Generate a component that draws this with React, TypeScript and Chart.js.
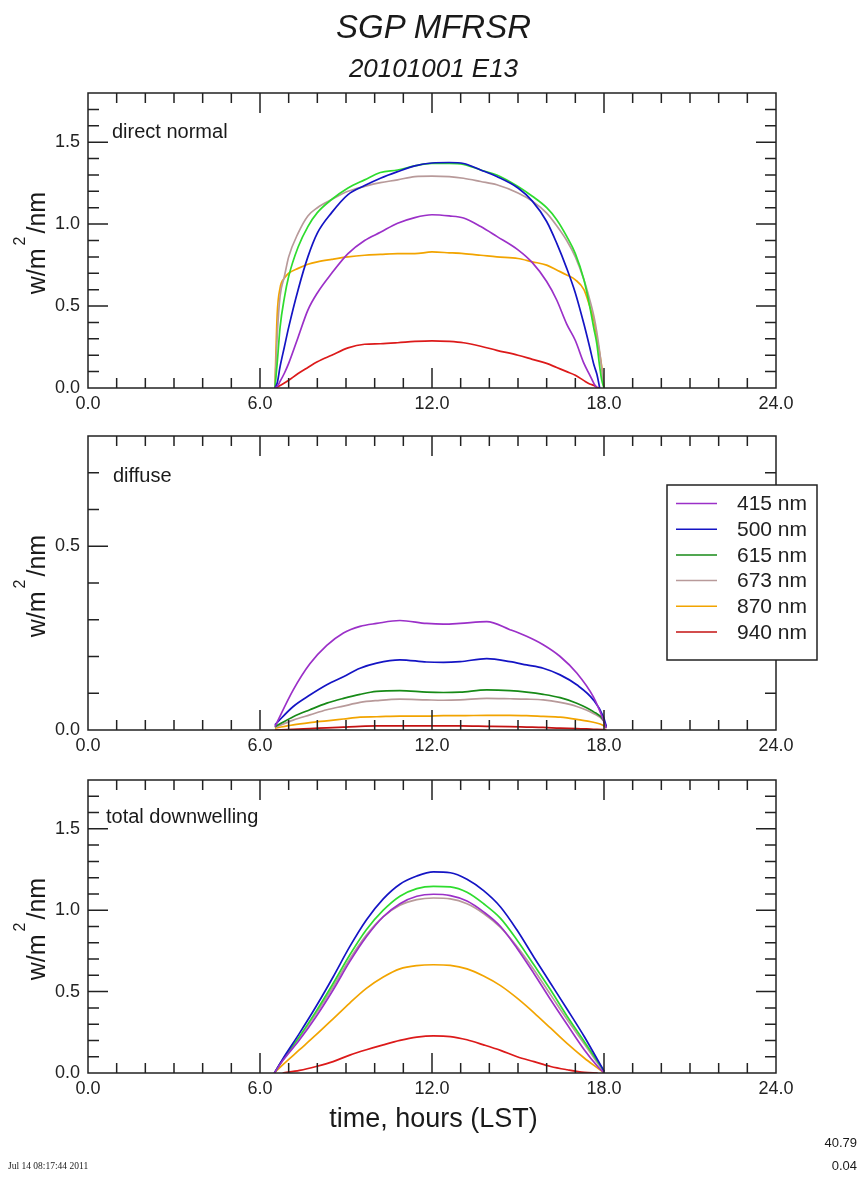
import { useEffect, useRef } from "react";
import { Chart, registerables } from "chart.js";

Chart.register(...registerables);

const FONT = '"Liberation Sans", Arial, Helvetica, sans-serif';

// ---- labels / ticks ----
const WAVELENGTH_LABELS = ["415 nm", "500 nm", "615 nm", "673 nm", "870 nm", "940 nm"];
const X_TICKS = [0, 6, 12, 18, 24];
const X_TICK_LABELS = ["0.0", "6.0", "12.0", "18.0", "24.0"];
const Y_TICKS_FULL = [0, 0.5, 1.0, 1.5];
const Y_TICK_LABELS_FULL = ["0.0", "0.5", "1.0", "1.5"];
const Y_TICKS_DIFFUSE = [0, 0.5];
const Y_TICK_LABELS_DIFFUSE = ["0.0", "0.5"];

// ---- direct normal ----
const DIRECT_HOURS = [6.52, 6.6, 6.7, 6.85, 7.0, 7.33, 7.67, 8.0, 8.5, 9.07, 9.65, 10.2, 10.8, 11.4, 12.0, 12.6, 13.1, 13.7, 14.26, 15.0, 15.5, 16.0, 16.35, 16.7, 17.0, 17.3, 17.5, 17.65, 17.75, 17.85, 17.92, 18.0];
const DIRECT_415 = [0, 0.01, 0.04, 0.09, 0.15, 0.31, 0.475, 0.58, 0.70, 0.82, 0.90, 0.95, 1.005, 1.04, 1.057, 1.05, 1.037, 0.985, 0.925, 0.843, 0.765, 0.65, 0.537, 0.39, 0.29, 0.15, 0.08, 0.027, 0.0, null, null, null];
const DIRECT_500 = [0, 0.03, 0.13, 0.25, 0.37, 0.60, 0.80, 0.945, 1.07, 1.18, 1.235, 1.28, 1.32, 1.355, 1.373, 1.376, 1.37, 1.33, 1.29, 1.22, 1.14, 1.016, 0.884, 0.73, 0.58, 0.39, 0.25, 0.14, 0.085, 0.0, null, null];
const DIRECT_615 = [0, 0.15, 0.37, 0.55, 0.68, 0.86, 0.985, 1.07, 1.15, 1.22, 1.27, 1.315, 1.33, 1.355, 1.37, 1.37, 1.365, 1.33, 1.30, 1.23, 1.17, 1.10, 1.027, 0.925, 0.82, 0.66, 0.50, 0.36, 0.27, 0.13, 0.05, 0];
const DIRECT_673 = [0, 0.32, 0.56, 0.68, 0.80, 0.945, 1.05, 1.10, 1.15, 1.20, 1.23, 1.253, 1.27, 1.29, 1.293, 1.29, 1.28, 1.26, 1.24, 1.19, 1.14, 1.067, 0.99, 0.90, 0.80, 0.66, 0.54, 0.435, 0.34, 0.22, 0.12, 0];
const DIRECT_870 = [0, 0.45, 0.61, 0.67, 0.70, 0.73, 0.755, 0.77, 0.785, 0.80, 0.81, 0.815, 0.82, 0.82, 0.83, 0.825, 0.82, 0.81, 0.80, 0.79, 0.77, 0.75, 0.72, 0.69, 0.66, 0.60, 0.50, 0.41, 0.31, 0.21, 0.13, 0];
const DIRECT_940 = [0, 0.005, 0.015, 0.03, 0.047, 0.088, 0.125, 0.16, 0.20, 0.245, 0.267, 0.27, 0.276, 0.284, 0.288, 0.284, 0.276, 0.255, 0.23, 0.20, 0.175, 0.15, 0.125, 0.10, 0.078, 0.045, 0.025, 0.016, 0.005, 0, null, null];

// ---- diffuse ----
const DIFFUSE_HOURS = [6.52, 7.16, 7.74, 8.33, 8.91, 9.49, 10.07, 10.88, 11.81, 12.4, 12.98, 13.91, 14.72, 15.3, 15.88, 16.47, 17.05, 17.63, 17.98, 18.08];
const DIFFUSE_415 = [0.009, 0.109, 0.18, 0.23, 0.264, 0.282, 0.29, 0.298, 0.29, 0.288, 0.29, 0.295, 0.273, 0.255, 0.232, 0.2, 0.155, 0.09, 0.027, 0.005];
const DIFFUSE_500 = [0.014, 0.064, 0.095, 0.123, 0.145, 0.168, 0.182, 0.191, 0.185, 0.184, 0.186, 0.194, 0.186, 0.177, 0.168, 0.15, 0.123, 0.082, 0.036, 0.01];
const DIFFUSE_615 = [0.009, 0.036, 0.055, 0.073, 0.086, 0.097, 0.105, 0.107, 0.103, 0.102, 0.103, 0.109, 0.107, 0.103, 0.097, 0.088, 0.073, 0.05, 0.027, 0.008];
const DIFFUSE_673 = [0.007, 0.027, 0.041, 0.055, 0.065, 0.075, 0.08, 0.084, 0.082, 0.081, 0.082, 0.086, 0.085, 0.084, 0.082, 0.075, 0.064, 0.045, 0.025, 0.007];
const DIFFUSE_870 = [0.005, 0.014, 0.02, 0.025, 0.03, 0.035, 0.036, 0.038, 0.038, 0.039, 0.039, 0.04, 0.04, 0.039, 0.037, 0.035, 0.029, 0.021, 0.012, 0.005];
const DIFFUSE_940 = [0, 0.002, 0.004, 0.006, 0.008, 0.01, 0.011, 0.011, 0.011, 0.011, 0.011, 0.01, 0.009, 0.008, 0.007, 0.005, 0.004, 0.002, 0.001, 0];

// ---- total downwelling ----
const TOTAL_HOURS = [6.5, 6.79, 7.38, 7.96, 8.55, 9.13, 9.71, 10.3, 10.88, 11.47, 12.05, 12.64, 13.22, 13.8, 14.39, 14.97, 15.56, 16.14, 16.72, 17.31, 17.78, 18.01];
const TOTAL_415 = [0, 0.075, 0.204, 0.347, 0.51, 0.684, 0.837, 0.96, 1.04, 1.086, 1.098, 1.09, 1.057, 0.99, 0.9, 0.765, 0.61, 0.45, 0.296, 0.143, 0.04, 0.0];
const TOTAL_500 = [0, 0.085, 0.245, 0.41, 0.59, 0.776, 0.94, 1.07, 1.16, 1.21, 1.235, 1.23, 1.19, 1.12, 1.02, 0.877, 0.71, 0.55, 0.39, 0.224, 0.08, 0.01];
const TOTAL_615 = [0, 0.08, 0.225, 0.38, 0.55, 0.725, 0.88, 1.0, 1.086, 1.133, 1.147, 1.143, 1.11, 1.04, 0.95, 0.816, 0.663, 0.51, 0.347, 0.194, 0.07, 0.01];
const TOTAL_673 = [0, 0.08, 0.22, 0.367, 0.53, 0.7, 0.847, 0.96, 1.03, 1.065, 1.075, 1.07, 1.04, 0.98, 0.894, 0.775, 0.633, 0.48, 0.327, 0.18, 0.06, 0.005];
const TOTAL_870 = [0, 0.05, 0.143, 0.235, 0.333, 0.43, 0.52, 0.59, 0.64, 0.66, 0.665, 0.661, 0.64, 0.596, 0.537, 0.46, 0.37, 0.275, 0.18, 0.092, 0.03, 0];
const TOTAL_940 = [null, 0, 0.016, 0.04, 0.07, 0.11, 0.143, 0.173, 0.2, 0.22, 0.228, 0.224, 0.204, 0.173, 0.139, 0.1, 0.07, 0.04, 0.02, 0.004, 0, null];

const COLORS_BRIGHT = ["#9b30c8", "#1414c4", "#2edc2e", "#b89a9a", "#f2a400", "#dc1a1a"];
const COLORS_DIFFUSE = ["#9b30c8", "#1414c4", "#178a17", "#b89a9a", "#f2a400", "#c41212"];

const Y_AXIS_W = 40;
const X_AXIS_H = 40;
const PLOT_LEFT = 88;
const PLOT_RIGHT = 776;
const PAGE_W = 867;
const PAGE_H = 1178;

type Panel = {
  top: number;
  bottom: number;
  ymax: number;
  hours: number[];
  series: (number | null)[][];
  colors: string[];
  yTicks: number[];
  yLabels: string[];
  legend: boolean;
};

const PANELS: Panel[] = [
  { top: 93, bottom: 388, ymax: 1.8, hours: DIRECT_HOURS, series: [DIRECT_415, DIRECT_500, DIRECT_615, DIRECT_673, DIRECT_870, DIRECT_940], colors: COLORS_BRIGHT, yTicks: Y_TICKS_FULL, yLabels: Y_TICK_LABELS_FULL, legend: false },
  { top: 436, bottom: 730, ymax: 0.8, hours: DIFFUSE_HOURS, series: [DIFFUSE_415, DIFFUSE_500, DIFFUSE_615, DIFFUSE_673, DIFFUSE_870, DIFFUSE_940], colors: COLORS_DIFFUSE, yTicks: Y_TICKS_DIFFUSE, yLabels: Y_TICK_LABELS_DIFFUSE, legend: true },
  { top: 780, bottom: 1073, ymax: 1.8, hours: TOTAL_HOURS, series: [TOTAL_415, TOTAL_500, TOTAL_615, TOTAL_673, TOTAL_870, TOTAL_940], colors: COLORS_BRIGHT, yTicks: Y_TICKS_FULL, yLabels: Y_TICK_LABELS_FULL, legend: false },
];

const PANEL_NAMES = [
  { text: "direct normal", left: 112, baseline: 138 },
  { text: "diffuse", left: 113, baseline: 482 },
  { text: "total downwelling", left: 106, baseline: 823 },
];

const LEGEND_BOX = { x: 667, y: 485, w: 150, h: 175, rowTop: 503.5, rowGap: 25.7, lineX0: 676, lineX1: 717, textX: 737 };

const framePlugin = {
  id: "frame",
  afterDatasetsDraw(chart: any) {
    const { ctx, chartArea, scales } = chart;
    const { left, right, top, bottom } = chartArea;
    const xs = scales.x;
    const ys = scales.y;
    ctx.save();
    ctx.strokeStyle = "#222";
    ctx.lineWidth = 1.5;
    ctx.strokeRect(left, top, right - left, bottom - top);
    ctx.beginPath();
    for (let h = 1; h < 24; h++) {
      const px = xs.getPixelForValue(h);
      const len = h % 6 === 0 ? 20 : 10;
      ctx.moveTo(px, bottom);
      ctx.lineTo(px, bottom - len);
      ctx.moveTo(px, top);
      ctx.lineTo(px, top + len);
    }
    for (let k = 1; k * 0.1 < ys.max - 0.01; k++) {
      const py = ys.getPixelForValue(k * 0.1);
      const len = k % 5 === 0 ? 20 : 11;
      ctx.moveTo(left, py);
      ctx.lineTo(left + len, py);
      ctx.moveTo(right, py);
      ctx.lineTo(right - len, py);
    }
    ctx.stroke();
    ctx.restore();
  },
};

const insetLegendPlugin = {
  id: "insetLegend",
  afterDraw(chart: any, _args: any, opts: any) {
    if (!opts || !opts.show) return;
    const ctx = chart.ctx;
    const L = LEGEND_BOX;
    ctx.save();
    ctx.fillStyle = "#fff";
    ctx.fillRect(L.x, L.y, L.w, L.h);
    ctx.strokeStyle = "#222";
    ctx.lineWidth = 1.5;
    ctx.strokeRect(L.x, L.y, L.w, L.h);
    chart.data.datasets.forEach((ds: any, i: number) => {
      const cy = L.rowTop + i * L.rowGap;
      ctx.strokeStyle = ds.borderColor;
      ctx.lineWidth = 1.5;
      ctx.beginPath();
      ctx.moveTo(L.lineX0, cy);
      ctx.lineTo(L.lineX1, cy);
      ctx.stroke();
      ctx.fillStyle = "#222";
      ctx.font = `21px ${FONT}`;
      ctx.textAlign = "left";
      ctx.textBaseline = "middle";
      ctx.fillText(ds.label, L.textX, cy + 1);
    });
    ctx.restore();
  },
};

function buildConfig(p: Panel): any {
  return {
    type: "line",
    data: {
      datasets: p.series.map((vals, i) => ({
        label: WAVELENGTH_LABELS[i],
        data: p.hours.map((h, k) => ({ x: h, y: vals[k] })),
        borderColor: p.colors[i],
        backgroundColor: p.colors[i],
        borderWidth: 1.7,
        pointRadius: 0,
        fill: false,
        cubicInterpolationMode: "monotone",
      })),
    },
    options: {
      animation: false,
      responsive: false,
      maintainAspectRatio: false,
      events: [],
      layout: {
        padding: {
          left: PLOT_LEFT - Y_AXIS_W,
          right: PAGE_W - PLOT_RIGHT,
          top: p.top,
          bottom: PAGE_H - p.bottom - X_AXIS_H,
        },
      },
      scales: {
        x: {
          type: "linear",
          min: 0,
          max: 24,
          grid: { display: false, drawTicks: false },
          border: { display: false },
          ticks: {
            autoSkip: false,
            maxRotation: 0,
            padding: 5,
            color: "#222",
            font: { family: FONT, size: 18 },
            callback: (v: number) => {
              const i = X_TICKS.indexOf(v);
              return i >= 0 ? X_TICK_LABELS[i] : "";
            },
          },
          afterBuildTicks: (s: any) => {
            s.ticks = X_TICKS.map((v) => ({ value: v }));
          },
          afterFit: (s: any) => {
            s.height = X_AXIS_H;
          },
        },
        y: {
          type: "linear",
          min: 0,
          max: p.ymax,
          grid: { display: false, drawTicks: false },
          border: { display: false },
          ticks: {
            autoSkip: false,
            padding: 8,
            color: "#222",
            font: { family: FONT, size: 18 },
            callback: (v: number) => {
              const i = p.yTicks.findIndex((t) => Math.abs(t - v) < 1e-6);
              return i >= 0 ? p.yLabels[i] : "";
            },
          },
          afterBuildTicks: (s: any) => {
            s.ticks = p.yTicks.map((v) => ({ value: v }));
          },
          afterFit: (s: any) => {
            s.width = Y_AXIS_W;
          },
        },
      },
      plugins: {
        legend: { display: false },
        tooltip: { enabled: false },
        insetLegend: { show: p.legend },
      },
    },
    plugins: [framePlugin, insetLegendPlugin],
  };
}

const textBase: any = { position: "absolute", whiteSpace: "nowrap", color: "#1a1a1a", fontFamily: FONT, lineHeight: 1 };

export default function App() {
  const r0 = useRef<HTMLCanvasElement>(null);
  const r1 = useRef<HTMLCanvasElement>(null);
  const r2 = useRef<HTMLCanvasElement>(null);
  const refs = [r0, r1, r2];

  useEffect(() => {
    const charts = PANELS.map((p, i) => new Chart(refs[i].current as HTMLCanvasElement, buildConfig(p)));
    return () => charts.forEach((c) => c.destroy());
  }, []);

  return (
    <div style={{ position: "absolute", left: 0, top: 0, width: PAGE_W, height: PAGE_H, background: "#fff", overflow: "hidden" }}>
      {PANELS.map((_, i) => (
        <canvas key={i} ref={refs[i]} width={PAGE_W} height={PAGE_H} style={{ position: "absolute", left: 0, top: 0, width: PAGE_W, height: PAGE_H }} />
      ))}
      <div style={{ ...textBase, left: 0, width: PAGE_W, top: 10, textAlign: "center", fontSize: 33, fontStyle: "italic" }}>SGP MFRSR</div>
      <div style={{ ...textBase, left: 0, width: PAGE_W, top: 55, textAlign: "center", fontSize: 26, fontStyle: "italic" }}>20101001 E13</div>
      {PANEL_NAMES.map((n, i) => (
        <div key={i} style={{ ...textBase, left: n.left, top: n.baseline - 17, fontSize: 20 }}>{n.text}</div>
      ))}
      {PANELS.map((p, i) => (
        <div
          key={"yl" + i}
          style={{
            ...textBase,
            left: 36,
            top: (p.top + p.bottom) / 2 + 2.5,
            fontSize: 25,
            transform: "translate(-50%, -50%) rotate(-90deg)",
          }}
        >
          w/m
          <sup style={{ fontSize: 16, verticalAlign: "baseline", position: "relative", top: -20, margin: "0 3px" }}>2</sup>
          /nm
        </div>
      ))}
      <div style={{ ...textBase, left: 0, width: PAGE_W, top: 1105, textAlign: "center", fontSize: 27 }}>time, hours (LST)</div>
      <div style={{ ...textBase, left: 8, top: 1162, fontSize: 9.5, fontFamily: '"Liberation Serif", "Times New Roman", serif' }}>Jul 14 08:17:44 2011</div>
      <div style={{ ...textBase, right: 10, top: 1136, fontSize: 13, textAlign: "right" }}>40.79</div>
      <div style={{ ...textBase, right: 10, top: 1159, fontSize: 13, textAlign: "right" }}>0.04</div>
    </div>
  );
}
